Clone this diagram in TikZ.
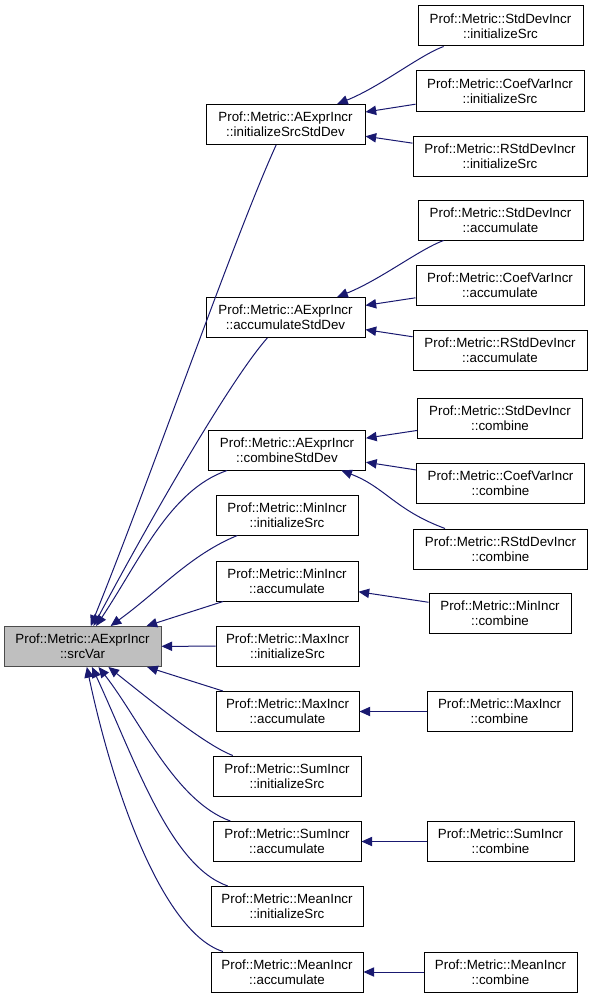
\documentclass[tikz,border=0pt]{standalone}
\usepackage{fontspec}
\setmainfont{Liberation Sans}
\usetikzlibrary{arrows.meta}
\definecolor{callblue}{RGB}{25,25,112}
\begin{document}
\begin{tikzpicture}[x=0.75pt, y=-0.75pt,
  every node/.style={font=\fontsize{10}{11}\selectfont, align=center},
  fn/.style={draw=black, line width=0.75pt, fill=white, minimum height=30pt, inner sep=0pt},
  wd/.style={minimum width=#1*0.75pt},
  call/.style={callblue, line width=0.75pt, -{Triangle[length=8pt,width=7pt]}}]
  \useasboundingbox (0,0) rectangle (593,999);
  \node[fn, fill=black!25, draw=black!70, wd=157] (srcvar) at (82.5,646.5) {Prof::Metric::AExprIncr\\::srcVar};
  \node[fn, wd=159] (initsd) at (285.5,124.5) {Prof::Metric::AExprIncr\\::initializeSrcStdDev};
  \node[fn, wd=159] (accsd) at (285.5,317.5) {Prof::Metric::AExprIncr\\::accumulateStdDev};
  \node[fn, wd=157] (combsd) at (287,450) {Prof::Metric::AExprIncr\\::combineStdDev};
  \node[fn, wd=142] (mininit) at (287,515) {Prof::Metric::MinIncr\\::initializeSrc};
  \node[fn, wd=142] (minacc) at (287,581) {Prof::Metric::MinIncr\\::accumulate};
  \node[fn, wd=143] (maxinit) at (287.5,646) {Prof::Metric::MaxIncr\\::initializeSrc};
  \node[fn, wd=143] (maxacc) at (287.5,711.5) {Prof::Metric::MaxIncr\\::accumulate};
  \node[fn, wd=148] (suminit) at (287,776) {Prof::Metric::SumIncr\\::initializeSrc};
  \node[fn, wd=148] (sumacc) at (287,841.5) {Prof::Metric::SumIncr\\::accumulate};
  \node[fn, wd=152] (meaninit) at (287,906.5) {Prof::Metric::MeanIncr\\::initializeSrc};
  \node[fn, wd=152] (meanacc) at (287,972) {Prof::Metric::MeanIncr\\::accumulate};
  \node[fn, wd=165] (sdinit) at (500.5,26) {Prof::Metric::StdDevIncr\\::initializeSrc};
  \node[fn, wd=168] (cvinit) at (500,91) {Prof::Metric::CoefVarIncr\\::initializeSrc};
  \node[fn, wd=174] (rsdinit) at (500,156) {Prof::Metric::RStdDevIncr\\::initializeSrc};
  \node[fn, wd=165] (sdacc) at (500.5,220) {Prof::Metric::StdDevIncr\\::accumulate};
  \node[fn, wd=168] (cvacc) at (500,285) {Prof::Metric::CoefVarIncr\\::accumulate};
  \node[fn, wd=174] (rsdacc) at (500,350) {Prof::Metric::RStdDevIncr\\::accumulate};
  \node[fn, wd=165] (sdcomb) at (500,418) {Prof::Metric::StdDevIncr\\::combine};
  \node[fn, wd=168] (cvcomb) at (500.5,483) {Prof::Metric::CoefVarIncr\\::combine};
  \node[fn, wd=174] (rsdcomb) at (500.5,549) {Prof::Metric::RStdDevIncr\\::combine};
  \node[fn, wd=142] (mincomb) at (500,613) {Prof::Metric::MinIncr\\::combine};
  \node[fn, wd=145] (maxcomb) at (499.5,711.5) {Prof::Metric::MaxIncr\\::combine};
  \node[fn, wd=147] (sumcomb) at (500.5,841.5) {Prof::Metric::SumIncr\\::combine};
  \node[fn, wd=153] (meancomb) at (500.5,972) {Prof::Metric::MeanIncr\\::combine};
  \draw[call] (initsd) .. controls (235,235) and (150,480) .. (srcvar);
  \draw[call] (accsd) .. controls (230,380) and (150,520) .. (srcvar);
  \draw[call] (combsd) .. controls (170,490) and (140,560) .. (srcvar);
  \draw[call] (mininit) .. controls (190,555) and (160,590) .. (srcvar);
  \draw[call] (minacc) -- (srcvar);
  \draw[call] (maxinit) -- (srcvar);
  \draw[call] (maxacc) -- (srcvar);
  \draw[call] (suminit) .. controls (205,745) and (150,700) .. (srcvar);
  \draw[call] (sumacc) .. controls (175,801) and (140,720) .. (srcvar);
  \draw[call] (meaninit) .. controls (170,866) and (135,760) .. (srcvar);
  \draw[call] (meanacc) .. controls (165,933) and (115,800) .. (srcvar);
  \draw[call] (sdinit) .. controls (420,55) and (380,87) .. (initsd);
  \draw[call] (cvinit) -- (initsd);
  \draw[call] (rsdinit) -- (initsd);
  \draw[call] (sdacc) .. controls (420,249) and (380,280) .. (accsd);
  \draw[call] (cvacc) -- (accsd);
  \draw[call] (rsdacc) -- (accsd);
  \draw[call] (sdcomb) -- (combsd);
  \draw[call] (cvcomb) -- (combsd);
  \draw[call] (rsdcomb) .. controls (395,510) and (385,487) .. (combsd);
  \draw[call] (mincomb) -- (minacc);
  \draw[call] (maxcomb) -- (maxacc);
  \draw[call] (sumcomb) -- (sumacc);
  \draw[call] (meancomb) -- (meanacc);
\end{tikzpicture}
\end{document}
